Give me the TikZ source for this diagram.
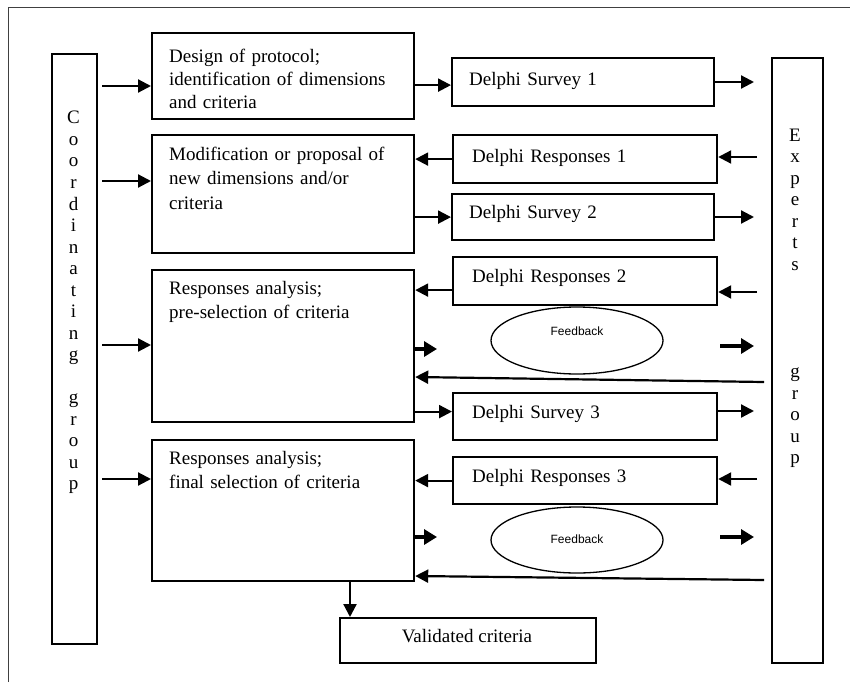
\documentclass[tikz,border=0pt]{standalone}
\usepackage{fontspec}
\setmainfont{Liberation Serif}
\newfontfamily\fbfont{Liberation Sans}
\usetikzlibrary{arrows.meta,shapes.geometric}

\begin{document}
\begin{tikzpicture}[x=1pt,y=-1pt,
  box/.style={draw, line width=2.2pt, inner sep=0pt, anchor=north west},
  lbl/.style={anchor=base west, inner sep=0pt, text width=250pt, align=left,
    font=\fontsize{19}{24.5}\selectfont},
  col/.style={anchor=base, inner sep=0pt, text width=24pt, align=center,
    font=\fontsize{19}{21.5}\selectfont},
  fb/.style={draw, ellipse, line width=1.3pt, inner sep=0pt,
    minimum width=172pt, minimum height=67pt},
  fbtxt/.style={inner sep=0pt, font=\fbfont\fontsize{12}{14}\selectfont},
  arr/.style={line width=2.2pt, -{Triangle[length=13pt,width=13pt]}},
  fbarr/.style={line width=4pt, -{Triangle[length=13pt,width=15pt]}}
]
\useasboundingbox (0,0) rectangle (850,682);

% outer frame
\draw[line width=1pt, black!75] (8,682) -- (8,8) -- (850,8);

% side group columns
\node[box, minimum width=45pt, minimum height=590pt] (cg) at (51,53) {};
\node[col] (cgt) at (73.5,124) {C\\o\\o\\r\\d\\i\\n\\a\\t\\i\\n\\g\\\mbox{}\\g\\r\\o\\u\\p};
\node[box, minimum width=51pt, minimum height=605pt] (eg) at (771,57) {};
\node[col] (egt) at (795,141) {E\\x\\p\\e\\r\\t\\s\\\mbox{}\\\mbox{}\\\mbox{}\\\mbox{}\\g\\r\\o\\u\\p};

% coordinating group steps
\node[box, minimum width=262pt, minimum height=86pt] (b1) at (151,32) {};
\node[lbl, font=\fontsize{19}{23}\selectfont] (b1t) at (169,63) {Design of protocol;\\identification of dimensions\\and criteria};
\node[box, minimum width=262pt, minimum height=118pt] (b2) at (151,134) {};
\node[lbl] (b2t) at (169,160) {Modification or proposal of\\new dimensions and/or\\criteria};
\node[box, minimum width=262pt, minimum height=152pt] (b3) at (151,269) {};
\node[lbl] (b3t) at (169,294) {Responses analysis;\\pre-selection of criteria};
\node[box, minimum width=262pt, minimum height=141pt] (b4) at (151,439) {};
\node[lbl] (b4t) at (169,464) {Responses analysis;\\final selection of criteria};

% Delphi rounds
\node[box, minimum width=262pt, minimum height=48pt] (s1) at (451,57) {};
\node[lbl] (s1t) at (469,85) {Delphi Survey 1};
\node[box, minimum width=264pt, minimum height=48pt] (r1) at (452,134) {};
\node[lbl] (r1t) at (472,162) {Delphi Responses 1};
\node[box, minimum width=262pt, minimum height=46pt] (s2) at (451,193) {};
\node[lbl] (s2t) at (469,218) {Delphi Survey 2};
\node[box, minimum width=264pt, minimum height=48pt] (r2) at (452,256) {};
\node[lbl] (r2t) at (472,282) {Delphi Responses 2};
\node[box, minimum width=264pt, minimum height=47pt] (s3) at (452,392) {};
\node[lbl] (s3t) at (472,418) {Delphi Survey 3};
\node[box, minimum width=264pt, minimum height=47pt] (r3) at (452,456) {};
\node[lbl] (r3t) at (472,482) {Delphi Responses 3};

% feedback ellipses
\node[fb] (fb1) at (577,340.5) {};
\node[fbtxt] (fb1t) at (577,331) {Feedback};
\node[fb, minimum height=66pt] (fb2) at (577,540) {};
\node[fbtxt] (fb2t) at (577,539) {Feedback};

% result
\node[box, minimum width=256pt, minimum height=45pt] (val) at (339,617) {};
\node[anchor=base, inner sep=0pt, font=\fontsize{19}{24}\selectfont] (valt) at (467,642) {Validated criteria};

% free ends of the connectors
\coordinate (c1) at (102,86);
\coordinate (c2) at (102,181);
\coordinate (c3) at (102,345);
\coordinate (c4) at (102,479);
\coordinate (o1) at (754,82);
\coordinate (o2) at (754,217);
\coordinate (o3) at (754,411);
\coordinate (i1) at (757,157);
\coordinate (i2) at (757,292);
\coordinate (i3) at (757,479);
\coordinate (f1a) at (437,349);
\coordinate (f1s) at (720,346);
\coordinate (f1e) at (754,346);
\coordinate (f2a) at (437,537);
\coordinate (f2s) at (720,537);
\coordinate (f2e) at (754,537);
\coordinate (k1) at (764,382);
\coordinate (k2) at (764,580);
\coordinate (vx) at (350,0);

% coordinating group to steps
\draw[arr] (c1) -- (c1 -| b1.west);
\draw[arr] (c2) -- (c2 -| b2.west);
\draw[arr] (c3) -- (c3 -| b3.west);
\draw[arr] (c4) -- (c4 -| b4.west);

% round 1
\draw[arr] ([yshift=-3pt]b1.east |- s1.west) -- ([yshift=-3pt]s1.west);
\draw[arr] (s1.east |- o1) -- (o1);
\draw[arr] (i1) -- (i1 -| r1.east);
\draw[arr] (r1.west) -- (r1.west -| b2.east);

% round 2
\draw[arr] (b2.east |- s2.west) -- (s2.west);
\draw[arr] (s2.east |- o2) -- (o2);
\draw[arr] (i2) -- (i2 -| r2.east);
\draw[arr] ([yshift=-9pt]r2.west) -- ([yshift=-9pt]r2.west -| b3.east);
\draw[fbarr] (f1a -| b3.east) -- (f1a);
\draw[fbarr] (f1s) -- (f1e);
\draw[arr] (k1) -- ([yshift=5pt]k1 -| b3.east);

% round 3
\draw[arr] ([yshift=5pt]b3.east |- s3.west) -- ([yshift=5pt]s3.west);
\draw[arr] (s3.east |- o3) -- (o3);
\draw[arr] (i3) -- (i3 -| r3.east);
\draw[arr] (r3.west) -- (r3.west -| b4.east);
\draw[fbarr] (f2a -| b4.east) -- (f2a);
\draw[fbarr] (f2s) -- (f2e);
\draw[arr] (k2) -- ([yshift=4pt]k2 -| b4.east);

% final result
\draw[arr] (b4.south -| vx) -- (val.north -| vx);
\end{tikzpicture}
\end{document}
